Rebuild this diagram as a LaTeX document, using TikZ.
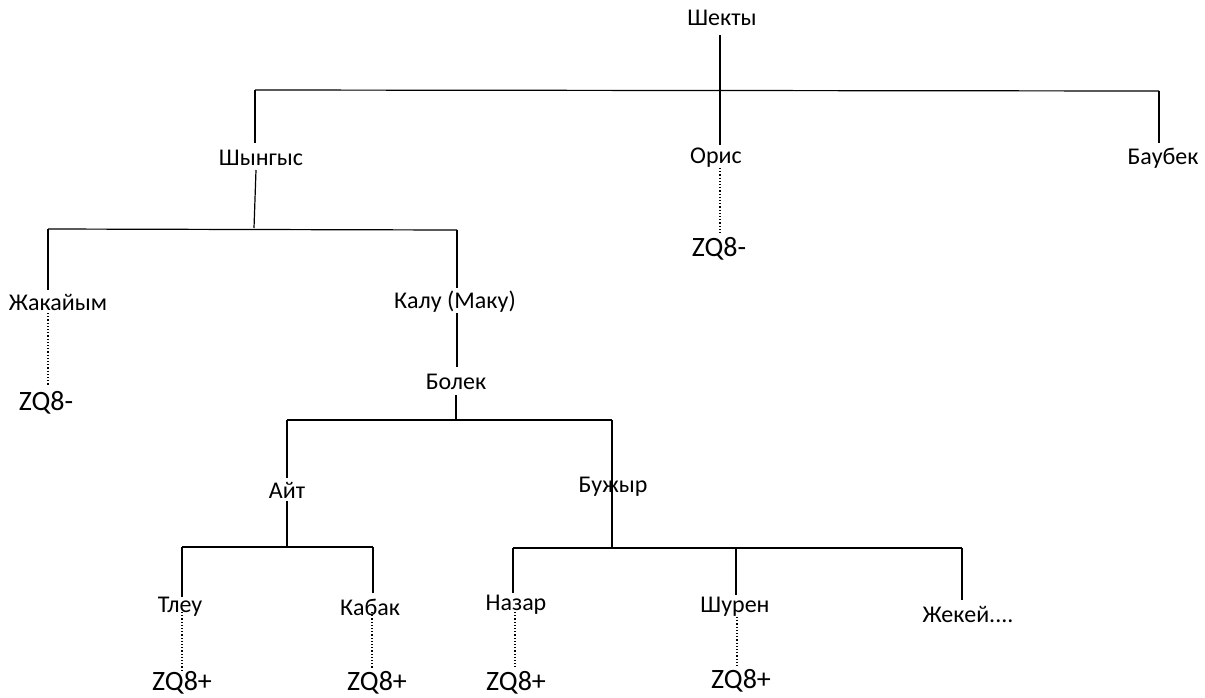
\documentclass[tikz,border=0pt]{standalone}
\usepackage{fontspec}
\setmainfont{Carlito}
\begin{document}
\begin{tikzpicture}[x=1pt,y=-1pt,
  lbl/.style={font=\fontsize{24}{26}\selectfont, inner sep=0pt},
  zq/.style={font=\fontsize{28}{30}\selectfont, inner sep=0pt},
  ln/.style={line width=1.2pt},
  dt/.style={line width=1.2pt, dotted}]
\useasboundingbox (0,0) rectangle (1205,697);
% nodes
\node[lbl] (shekty) at (722,18) {Шекты};
\node[lbl] (shyngys) at (261,158) {Шынгыс};
\node[lbl] (oris) at (716,158) {Орис};
\node[lbl] (baubek) at (1163,158) {Баубек};
\node[zq] (zqO) at (719,249) {ZQ8-};
\node[lbl] (zhakaiym) at (58,302) {Жакайым};
\node[zq] (zqZ) at (46,403) {ZQ8-};
\node[lbl] (kalu) at (455,302) {Калу (Маку)};
\node[lbl] (bolek) at (456,382) {Болек};
\node[lbl] (ait) at (287,490) {Айт};
\node[lbl] (buzhyr) at (613,487) {Бужыр};
\node[lbl] (tleu) at (180,607) {Тлеу};
\node[lbl] (kabak) at (370,607) {Кабак};
\node[lbl] (nazar) at (516,605) {Назар};
\node[lbl] (shuren) at (735,607) {Шурен};
\node[lbl] (zhekei) at (968,614) {Жекей....};
\node[zq] (zqT) at (182,683) {ZQ8+};
\node[zq] (zqK) at (377,683) {ZQ8+};
\node[zq] (zqN) at (516,683) {ZQ8+};
\node[zq] (zqS) at (741,681) {ZQ8+};
% junction coordinates
\coordinate (h1L) at (255,90);
\coordinate (h1R) at (1159,91);
\coordinate (h2L) at (48,229);
\coordinate (h2R) at (457,230);
\coordinate (h2M) at (254,228);
\coordinate (h3L) at (287,420);
\coordinate (h3R) at (612,420);
\coordinate (h3M) at (456,420);
\coordinate (h4L) at (182,547);
\coordinate (h4R) at (373,547);
\coordinate (h4M) at (287,547);
\coordinate (h5L) at (513,548);
\coordinate (h5R) at (962,548);
\coordinate (h5M) at (612,548);
\coordinate (h5S) at (736,548);
% level 1
\draw[ln] (720,35) -- (720,145);
\draw[ln] (h1L) -- (h1R);
\draw[ln] (h1L) -- (255,143);
\draw[ln] (h1R) -- (1159,143);
\draw[dt] (720,168) -- (720,235);
% level 2
\draw[ln] (256,170) -- (h2M);
\draw[ln] (h2L) -- (h2R);
\draw[ln] (h2L) -- (48,290);
\draw[ln] (h2R) -- (457,288);
\draw[dt] (48,313) -- (48,385);
\draw[ln] (457,313) -- (457,367);
\draw[ln] (456,395) -- (h3M);
% level 3
\draw[ln] (h3L) -- (h3R);
\draw[ln] (h3L) -- (287,478);
\draw[ln] (287,501) -- (h4M);
\draw[ln] (h3R) -- (h5M);
% level 4 Ait
\draw[ln] (h4L) -- (h4R);
\draw[ln] (h4L) -- (182,597);
\draw[ln] (h4R) -- (373,593);
\draw[dt] (182,612) -- (182,672);
\draw[dt] (372,612) -- (372,668);
% level 4 Buzhyr
\draw[ln] (h5L) -- (h5R);
\draw[ln] (h5L) -- (513,593);
\draw[ln] (h5S) -- (736,595);
\draw[ln] (h5R) -- (962,600);
\draw[dt] (515,612) -- (515,667);
\draw[dt] (737,617) -- (737,668);
\end{tikzpicture}
\end{document}
